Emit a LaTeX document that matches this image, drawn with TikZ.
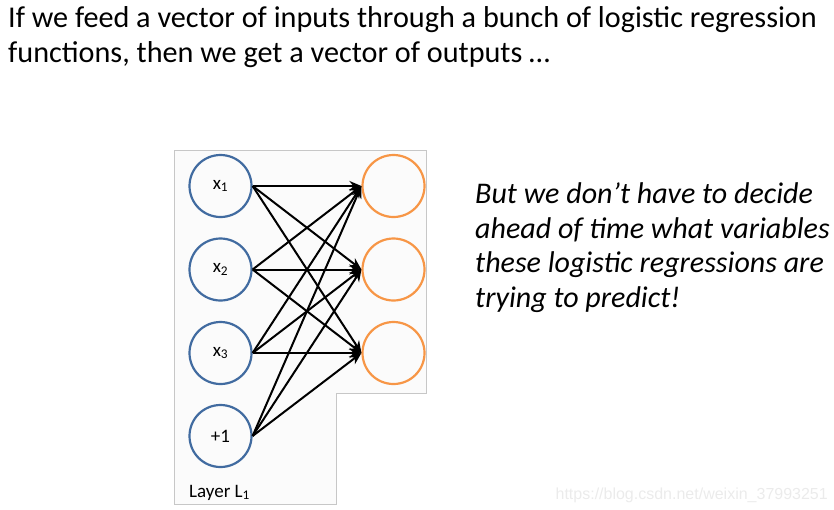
\documentclass[tikz,border=0pt]{standalone}
\usepackage{fontspec}
\setmainfont{Carlito}
\newfontfamily\markfont{Liberation Sans}
\usetikzlibrary{arrows.meta}
\definecolor{inblue}{RGB}{65,107,160}
\definecolor{outorange}{RGB}{247,150,70}

\begin{document}
\begin{tikzpicture}[x=1pt,y=-1pt,
      >={Stealth[length=12pt,width=10pt]},
      inp/.style={circle,draw=inblue,line width=2.2pt,minimum size=62pt,
        inner sep=0pt,font=\fontsize{19}{21}\selectfont},
      outp/.style={circle,draw=outorange,line width=2.2pt,minimum size=62pt,
        inner sep=0pt},
      wire/.style={draw=black,line width=2pt,->},
      txt/.style={anchor=base west,inner sep=0pt,font=\fontsize{30.2}{34}\selectfont},
      side/.style={anchor=base west,inner sep=0pt,
        font=\fontsize{30}{34}\selectfont\itshape}
    ]
    \useasboundingbox (0,0) rectangle (834,509);
    % frame of the network picture
    \draw[black!22,fill=black!1.5,line width=1pt]
      (174,150) -- (426,150) -- (426,393) -- (336,393) -- (336,504)
      -- (174,504) -- cycle;
    % heading
    \node[txt] (head1) at (8,27)
      {If we feed a vector of inputs through a bunch of logistic regression};
    \node[txt] (head2) at (8,62)
      {functions, then we get a vector of outputs \dots};
    % input layer
    \node[inp] (x1) at (220.5,186) {x\textsubscript{1}};
    \node[inp] (x2) at (220.5,269.5) {x\textsubscript{2}};
    \node[inp] (x3) at (220.5,353) {x\textsubscript{3}};
    \node[inp,font=\fontsize{19}{21}\selectfont] (bias) at (220.5,436) {+1};
    \node[anchor=base west,inner sep=0pt,font=\fontsize{19}{21}\selectfont]
      (layer) at (189,497) {Layer L\textsubscript{1}};
    % output layer
    \node[outp] (y1) at (393.5,186) {};
    \node[outp] (y2) at (393.5,269.5) {};
    \node[outp] (y3) at (393.5,353) {};
    % connections
    \foreach \src in {x1,x2,x3,bias}
      \foreach \dst in {y1,y2,y3}
        \draw[wire] (\src.east) -- (\dst.west);
    % remark
    \node[side] (r1) at (475,203) {But we don’t have to decide};
    \node[side] (r2) at (475,238) {ahead of time what variables};
    \node[side] (r3) at (475,272) {these logistic regressions are};
    \node[side] (r4) at (475,307) {trying to predict!};
    % watermark
    \node[anchor=base east,inner sep=0pt,text=black!8,
      font=\markfont\fontsize{16}{18}\selectfont] (mark) at (828,499)
      {https://blog.csdn.net/weixin\_37993251};
  \end{tikzpicture}
\end{document}
